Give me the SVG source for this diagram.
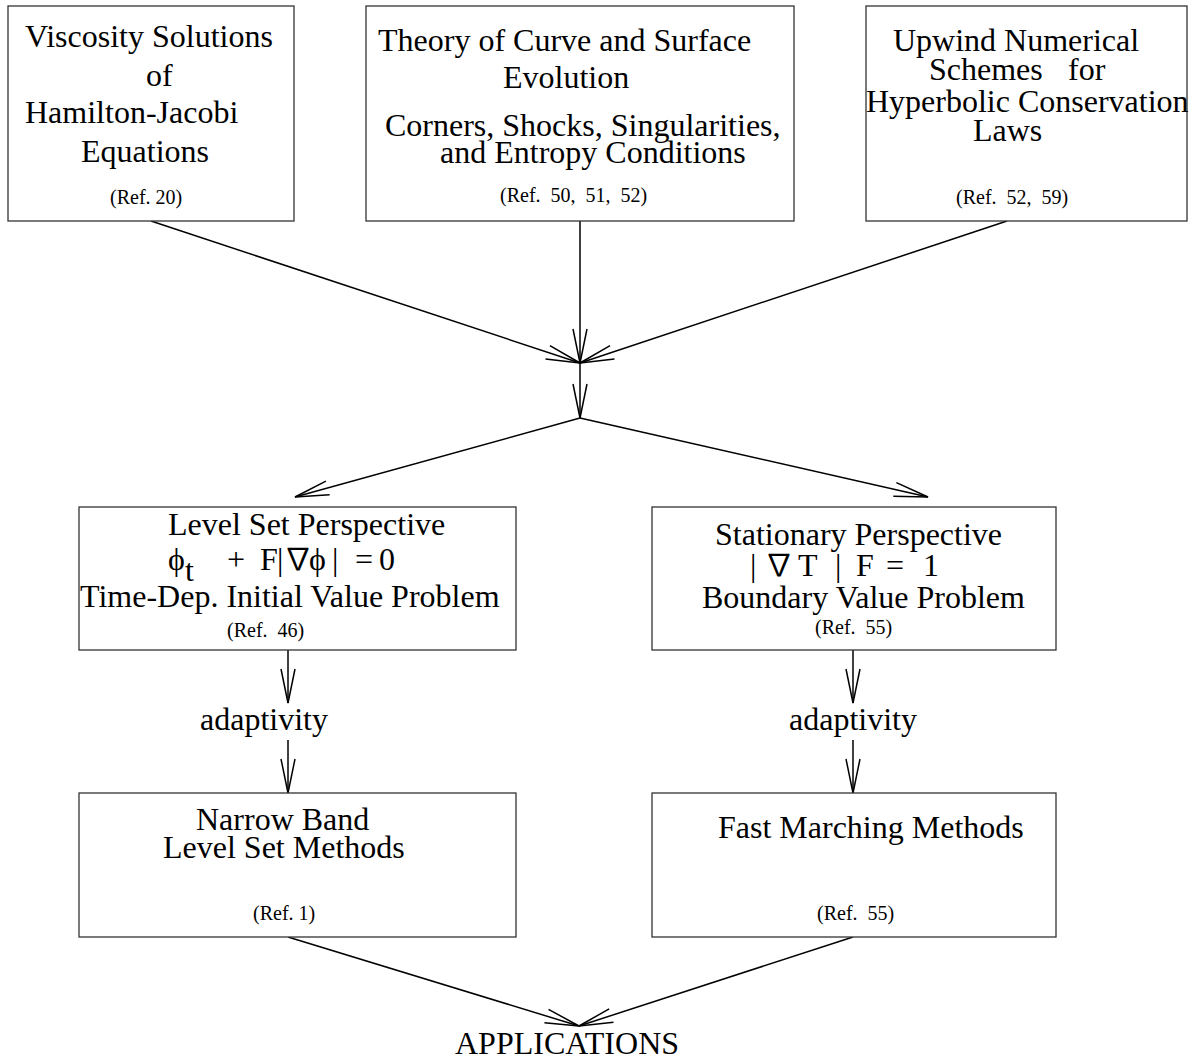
<svg xmlns="http://www.w3.org/2000/svg" width="1194" height="1060" viewBox="0 0 1194 1060">
<style>
text{font-family:"Liberation Serif","DejaVu Serif",serif;fill:#000}
.t{font-size:32px}
.r{font-size:20px}
.nab{font-family:"Noto Sans CJK JP","DejaVu Sans",sans-serif;font-size:30px}
.box{fill:#fff;stroke:#333;stroke-width:1.3}
.c{fill:none;stroke:#000;stroke-width:1.5}
</style>
<defs>
<marker id="ah" markerUnits="userSpaceOnUse" markerWidth="44" markerHeight="24" viewBox="-38 -12 44 24" refX="0" refY="0" orient="auto" overflow="visible">
<path d="M-34,-7 L0,0 L-34,7" fill="none" stroke="#000" stroke-width="1.5"/>
</marker>
</defs>
<rect width="1194" height="1060" fill="#fff"/>
<g id="connectors">
<line class="c" x1="151" y1="221" x2="580" y2="363" marker-end="url(#ah)"/>
<line class="c" x1="580" y1="221" x2="580" y2="363" marker-end="url(#ah)"/>
<line class="c" x1="1007" y1="221" x2="580" y2="363" marker-end="url(#ah)"/>
<line class="c" x1="580" y1="363" x2="580" y2="418" marker-end="url(#ah)"/>
<line class="c" x1="580" y1="418" x2="295" y2="497" marker-end="url(#ah)"/>
<line class="c" x1="580" y1="418" x2="928" y2="497" marker-end="url(#ah)"/>
<line class="c" x1="288" y1="650" x2="288" y2="703" marker-end="url(#ah)"/>
<line class="c" x1="288" y1="740" x2="288" y2="793" marker-end="url(#ah)"/>
<line class="c" x1="853" y1="650" x2="853" y2="703" marker-end="url(#ah)"/>
<line class="c" x1="853" y1="740" x2="853" y2="793" marker-end="url(#ah)"/>
<line class="c" x1="288" y1="937" x2="579" y2="1026" marker-end="url(#ah)"/>
<line class="c" x1="853" y1="937" x2="579" y2="1026" marker-end="url(#ah)"/>
</g>
<g id="viscosity">
<rect class="box" x="8" y="6" width="286" height="215"/>
<text class="t" x="25" y="47">Viscosity Solutions</text>
<text class="t" x="146" y="86">of</text>
<text class="t" x="25" y="123">Hamilton-Jacobi</text>
<text class="t" x="81" y="162">Equations</text>
<text class="r" x="110" y="204">(Ref. 20)</text>
</g>
<g id="curve-evolution">
<rect class="box" x="366" y="6" width="428" height="215"/>
<text class="t" x="378" y="51">Theory of Curve and Surface</text>
<text class="t" x="503" y="88">Evolution</text>
<text class="t" x="385" y="136">Corners, Shocks, Singularities,</text>
<text class="t" x="440" y="163">and Entropy Conditions</text>
<text class="r" x="500" y="202" xml:space="preserve">(Ref.  50,  51,  52)</text>
</g>
<g id="upwind">
<rect class="box" x="866" y="6" width="321" height="215"/>
<text class="t" x="893" y="51">Upwind Numerical</text>
<text class="t" y="80"><tspan x="929">Schemes</tspan><tspan x="1068">for</tspan></text>
<text class="t" x="866" y="112">Hyperbolic Conservation</text>
<text class="t" x="973" y="141">Laws</text>
<text class="r" x="956" y="204" xml:space="preserve">(Ref.  52,  59)</text>
</g>
<g id="level-set">
<rect class="box" x="79" y="507" width="437" height="143"/>
<text class="t" x="168" y="535">Level Set Perspective</text>
<text class="t" y="570"><tspan x="168">ϕ</tspan><tspan x="185" y="581">t</tspan><tspan x="227" y="570">+</tspan><tspan x="260">F</tspan><tspan x="277">|</tspan><tspan class="nab" x="283" y="569">∇</tspan><tspan x="309" y="570">ϕ</tspan><tspan x="332">|</tspan><tspan x="355">=</tspan><tspan x="379">0</tspan></text>
<text class="t" x="80" y="607">Time-Dep. Initial Value Problem</text>
<text class="r" x="227" y="637" xml:space="preserve">(Ref.  46)</text>
</g>
<g id="stationary">
<rect class="box" x="652" y="507" width="404" height="143"/>
<text class="t" x="715" y="545">Stationary Perspective</text>
<text class="t" y="576"><tspan x="750">|</tspan><tspan class="nab" x="764" y="575">∇</tspan><tspan x="798" y="576">T</tspan><tspan x="835">|</tspan><tspan x="856">F</tspan><tspan x="886">=</tspan><tspan x="923">1</tspan></text>
<text class="t" x="702" y="608">Boundary Value Problem</text>
<text class="r" x="815" y="634" xml:space="preserve">(Ref.  55)</text>
</g>
<g id="adaptivity-left">
<text class="t" x="200" y="730">adaptivity</text>
</g>
<g id="adaptivity-right">
<text class="t" x="789" y="730">adaptivity</text>
</g>
<g id="narrow-band">
<rect class="box" x="79" y="793" width="437" height="144"/>
<text class="t" x="196" y="830">Narrow Band</text>
<text class="t" x="163" y="858">Level Set Methods</text>
<text class="r" x="253" y="920">(Ref. 1)</text>
</g>
<g id="fast-marching">
<rect class="box" x="652" y="793" width="404" height="144"/>
<text class="t" x="718" y="838">Fast Marching Methods</text>
<text class="r" x="817" y="920" xml:space="preserve">(Ref.  55)</text>
</g>
<g id="applications">
<text class="t" x="455" y="1054">APPLICATIONS</text>
</g>
</svg>
